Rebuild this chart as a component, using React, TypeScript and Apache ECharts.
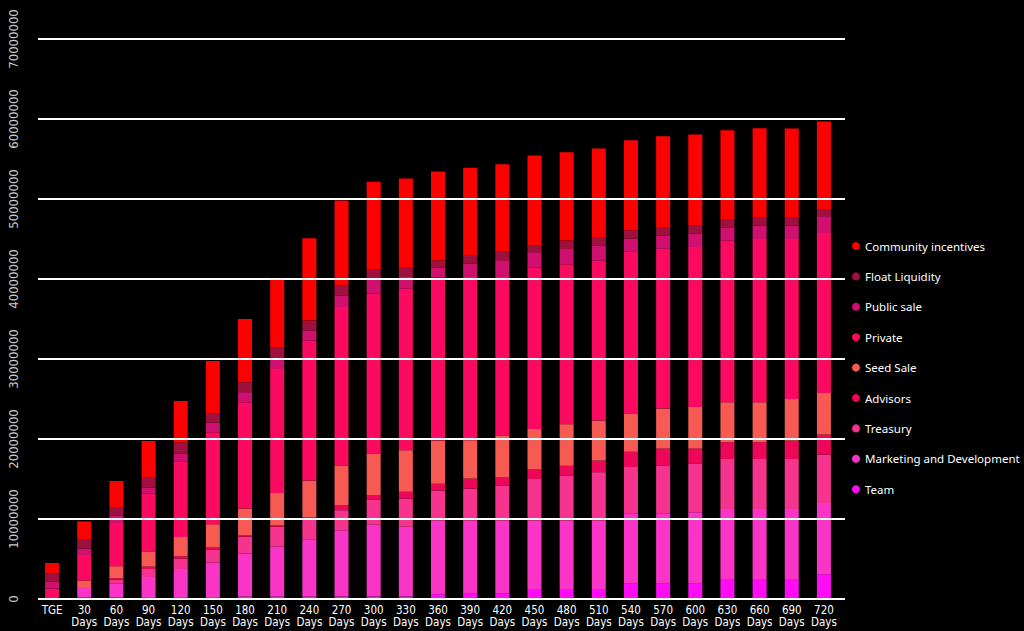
import React, { useEffect, useRef } from "react";
import * as echarts from "echarts";

// Unlock schedule, values in millions of tokens
const UNIT = 1000000;

const categories = [
  "TGE", "30 Days", "60 Days", "90 Days", "120 Days", "150 Days", "180 Days",
  "210 Days", "240 Days", "270 Days", "300 Days", "330 Days", "360 Days",
  "390 Days", "420 Days", "450 Days", "480 Days", "510 Days", "540 Days",
  "570 Days", "600 Days", "630 Days", "660 Days", "690 Days", "720 Days",
];

const team = [0, 0.2, 0.2, 0.25, 0.25, 0.25, 0.3, 0.3, 0.3, 0.3, 0.3, 0.3, 0.6, 0.65, 0.7, 1.25, 1.25, 1.25, 1.9, 1.9, 1.9, 2.5, 2.5, 2.5, 3.1];
const marketing = [0, 1.3, 1.7, 2.5, 3.5, 4.3, 5.4, 6.25, 7.1, 8.3, 9, 8.75, 9.2, 9.15, 9.1, 8.55, 8.55, 8.55, 8.75, 8.75, 8.95, 8.75, 8.75, 8.75, 8.9];
const treasury = [0, 0, 0.5, 1.0, 1.3, 1.6, 2.1, 2.5, 2.5, 2.5, 3.1, 3.5, 3.75, 4, 4.4, 5.2, 5.6, 6.05, 5.85, 6.05, 6.05, 6.25, 6.25, 6.25, 6.05];
const advisors = [0, 0, 0.2, 0.3, 0.3, 0.3, 0.2, 0.2, 0.3, 0.6, 0.6, 0.85, 0.85, 1.25, 1.05, 1.25, 1.25, 1.45, 1.9, 2.1, 1.9, 2.1, 2.1, 2.3, 2.5];
const seedSale = [0, 0.8, 1.5, 1.9, 2.4, 2.9, 3.3, 4, 4.6, 5, 5.2, 5.2, 5.4, 4.8, 5.2, 5, 5.2, 5, 4.8, 5, 5.2, 5, 5, 5.2, 5.2];
const privateSale = [1.3, 3.2, 5.4, 7.2, 9.4, 11.5, 13.3, 15.5, 17.5, 19.8, 20, 20.2, 20.4, 20.4, 19.8, 20.2, 20, 20, 20.2, 20, 20, 20.2, 20.4, 20, 20];
const publicSale = [0.9, 0.8, 0.9, 0.8, 1.0, 1.2, 1.25, 1.25, 1.25, 1.45, 1.9, 1.45, 1.25, 1.65, 2.1, 1.9, 1.9, 1.9, 1.65, 1.65, 1.65, 1.65, 1.65, 1.65, 2.1];
const floatLiquidity = [1.0, 1.2, 1.1, 1.3, 1.4, 1.2, 1.25, 1.45, 1.25, 1.25, 1.05, 1.25, 0.85, 1.05, 1.05, 0.85, 1.05, 1.05, 1.05, 1.05, 1.05, 1.05, 1.05, 1.05, 0.85];
const community = [1.3, 2.2, 3.25, 4.5, 5.2, 6.5, 7.9, 8.5, 10.3, 10.6, 11, 11.05, 11.15, 10.95, 10.95, 11.25, 11.05, 11.05, 11.25, 11.35, 11.35, 11.1, 11.15, 11.1, 11.0];

const yTicks = { min: 0, max: 70000000, interval: 10000000 };

// Stacked bottom to top
const seriesDefs = [
  { name: "Team", data: team, color: "#ff0cf4" },
  { name: "Marketing and Development", data: marketing, color: "#fb34c8" },
  { name: "Treasury", data: treasury, color: "#f6348e" },
  { name: "Advisors", data: advisors, color: "#ee0658" },
  { name: "Seed Sale", data: seedSale, color: "#f65a52" },
  { name: "Private", data: privateSale, color: "#fc0a62" },
  { name: "Public sale", data: publicSale, color: "#d0106e" },
  { name: "Float Liquidity", data: floatLiquidity, color: "#a0103e" },
  { name: "Community incentives", data: community, color: "#ff0000" },
];

export default function App() {
  const ref = useRef<HTMLDivElement>(null);

  useEffect(() => {
    if (!ref.current) return;
    const chart = echarts.init(ref.current, null, { renderer: "svg" });
    const axisFont = "'DejaVu Sans Condensed', 'DejaVu Sans', sans-serif";

    chart.setOption({
      animation: false,
      backgroundColor: "#000000",
      grid: [
        { left: 36, right: 184, top: 39, bottom: 32 },
        { left: 38, right: 179, top: 39, bottom: 32 },
      ],
      legend: {
        orient: "vertical",
        left: 847,
        top: 234,
        icon: "circle",
        itemWidth: 8,
        itemHeight: 8,
        itemGap: 16.4,
        data: seriesDefs.map((s) => s.name).reverse(),
        textStyle: {
          color: "#ffffff",
          fontSize: 11.5,
          lineHeight: 14,
          fontFamily: "'Noto Sans', sans-serif",
        },
      },
      xAxis: [
        {
          type: "category",
          gridIndex: 0,
          data: categories,
          axisLine: { show: false },
          axisTick: { show: false },
          axisLabel: {
            interval: 0,
            color: "#ffffff",
            fontSize: 11.5,
            lineHeight: 12,
            margin: 5,
            fontFamily: axisFont,
            formatter: (v: string) => v.replace(" ", "\n"),
          },
        },
        { type: "category", gridIndex: 1, data: categories, show: false },
      ],
      yAxis: [
        {
          type: "value",
          gridIndex: 0,
          ...yTicks,
          axisLine: { show: false },
          axisTick: { show: false },
          splitLine: { show: false },
          axisLabel: {
            rotate: 90,
            color: "#c8c8c8",
            fontSize: 13,
            margin: 16,
            fontFamily: axisFont,
            formatter: (v: number) => String(v),
          },
        },
        {
          type: "value",
          gridIndex: 1,
          ...yTicks,
          z: 10,
          axisLine: { show: false },
          axisTick: { show: false },
          axisLabel: { show: false },
          splitLine: { show: true, lineStyle: { color: "#ffffff", width: 2 } },
        },
      ],
      series: seriesDefs.map((s) => ({
        name: s.name,
        type: "bar",
        stack: "total",
        xAxisIndex: 0,
        yAxisIndex: 0,
        barWidth: 14,
        itemStyle: { color: s.color },
        data: s.data.map((v) => v * UNIT),
      })),
    });

    return () => chart.dispose();
  }, []);

  return (
    <div
      ref={ref}
      style={{ position: "fixed", left: 0, top: 0, width: 1024, height: 631, background: "#000" }}
    />
  );
}
